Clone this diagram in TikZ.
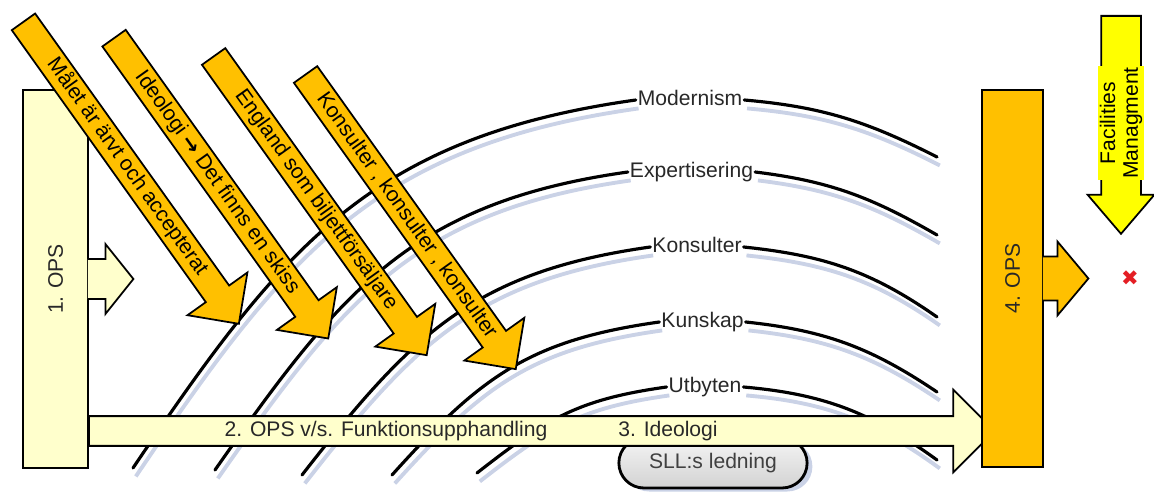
\documentclass[tikz,border=0pt]{standalone}
\usepackage{fontspec}
\setmainfont{Liberation Sans}
\newfontfamily\dejavu{DejaVu Sans}
\usepackage{graphicx}
\usepackage{tikz}
\usetikzlibrary{shapes.arrows,shapes.misc,shadows}

\definecolor{opslight}{RGB}{255,255,204}
\definecolor{opsorange}{RGB}{255,192,0}
\definecolor{fmyellow}{RGB}{255,255,0}
\definecolor{arcshadow}{RGB}{202,210,230}
\definecolor{labeltext}{RGB}{40,40,40}
\definecolor{xred}{RGB}{228,30,36}

\begin{document}
\begin{tikzpicture}[x=0.02cm, y=-0.02cm,
  every node/.style={font=\fontsize{12}{13}\selectfont, text=labeltext},
  arcline/.style={line width=1.8pt, line cap=round,
    preaction={draw=arcshadow, line width=2.2pt, transform canvas={xshift=1.6pt, yshift=-4.8pt}}},
  arclabel/.style={fill=white, inner xsep=1pt, inner ysep=1pt, text height=8.8pt, text depth=2.6pt},
  opsbox/.style={draw, line width=1pt, minimum width=1.3cm, minimum height=7.56cm, inner sep=0pt},
  bump/.style={draw, line width=1pt, line join=miter},
  diagarrow/.style={single arrow, draw, line width=1pt, fill=opsorange, rotate=-54.5,
    single arrow head extend=0.45cm, text height=8.8pt, text depth=2.6pt,
    inner ysep=1.95pt, inner xsep=0pt, text=black},
  flatarrow/.style={single arrow, draw, line width=1pt, inner xsep=0pt}
]
\useasboundingbox (0,0) rectangle (1154,496);

\node[arclabel] (mod)  at (690,100)   {Modernism};
\node[arclabel] (exp)  at (691.5,172) {Expertisering};
\node[arclabel] (kons) at (697,247)   {Konsulter};
\node[arclabel] (kun)  at (702.5,322) {Kunskap};
\node[arclabel] (utb)  at (705,387)   {Utbyten};

\coordinate (mod0) at (133,468);  \coordinate (mod1) at (937,157);
\coordinate (exp0) at (215,470);  \coordinate (exp1) at (937,235);
\coordinate (kons0) at (302,475); \coordinate (kons1) at (937,317);
\coordinate (kun0) at (392,475);  \coordinate (kun1) at (937,392);
\coordinate (utb0) at (477,473);  \coordinate (utb1) at (937,460);

\draw[arcline] (mod0) to[out=56,in=188,looseness=1.1] (mod.west);
\draw[arcline] (mod.east) to[out=-5,in=153] (mod1);
\draw[arcline] (exp0) to[out=55,in=188,looseness=1.1] (exp.west);
\draw[arcline] (exp.east) to[out=-7,in=150] (exp1);
\draw[arcline] (kons0) to[out=52,in=188,looseness=1.1] (kons.west);
\draw[arcline] (kons.east) to[out=-6,in=145] (kons1);
\draw[arcline] (kun0) to[out=48,in=188,looseness=1.1] (kun.west);
\draw[arcline] (kun.east) to[out=-6,in=146] (kun1);
\draw[arcline] (utb0) to[out=38,in=188,looseness=1.1] (utb.west);
\draw[arcline] (utb.east) to[out=-5,in=144] (utb1);

\node[rounded rectangle, draw, line width=1.6pt, minimum width=4cm, minimum height=1cm,
  top color=gray!8, bottom color=gray!35, text=black!75,
  drop shadow={shadow xshift=3pt, shadow yshift=-2pt, fill=arcshadow, opacity=1}] (sll) at (713,463) {SLL:s ledning};

\node[flatarrow, fill=opslight, anchor=tail, minimum height=18.12cm, inner ysep=0.28cm,
  single arrow head extend=0.53cm] (ideo) at (88,431) {};
\node (ops2) at (386,431) {2. OPS v/s. Funktionsupphandling};
\node (ideol) at (668,431) {3. Ideologi};

\node[opsbox, fill=opslight] (ops1) at (55.5,279) {\rotatebox{90}{1. OPS}};
\filldraw[bump, fill=opslight] ([xshift=-0.6pt]ops1.east) ++(0,-20) -- ++(17.6,0) -- ++(0,-15)
  -- ++(28,35) -- ++(-28,35) -- ++(0,-15) -- ++(-17.6,0);

\node[opsbox, fill=opsorange, minimum width=1.22cm, minimum height=7.54cm] (ops4) at (1012.5,278.5) {\rotatebox{90}{4. OPS}};
\filldraw[bump, fill=opsorange] ([xshift=-0.6pt]ops4.east) ++(0,-22) -- ++(14.6,0) -- ++(0,-15)
  -- ++(31,37) -- ++(-31,37) -- ++(0,-15) -- ++(-14.6,0);

\node[diagarrow, minimum height=7.42cm] (goal) at (127,167) {Målet är ärvt och accepterat};
\node[diagarrow, minimum height=7.38cm] (sketch) at (217,182.5) {Ideologi {\dejavu\bfseries →} Det finns en skiss};
\node[diagarrow, minimum height=7.34cm] (england) at (316,200) {England som biljettförsäljare};
\node[diagarrow, minimum height=7.24cm] (consult) at (406.5,216) {Konsulter , konsulter , konsulter};

\node[flatarrow, fill=fmyellow, rotate=-90, anchor=tail, minimum height=4.36cm, inner ysep=0.38cm,
  single arrow head extend=0.27cm, single arrow tip angle=81] (fmarrow) at (1121,15) {};
\node[fill=fmyellow, rotate=90, align=center, inner sep=1pt, text=black] (fm) at (1121,123) {Facilities\\Managment};
\node[text=xred, font=\dejavu\fontsize{12}{12}\selectfont] (cross) at (1130,278) {✖};
\end{tikzpicture}
\end{document}
